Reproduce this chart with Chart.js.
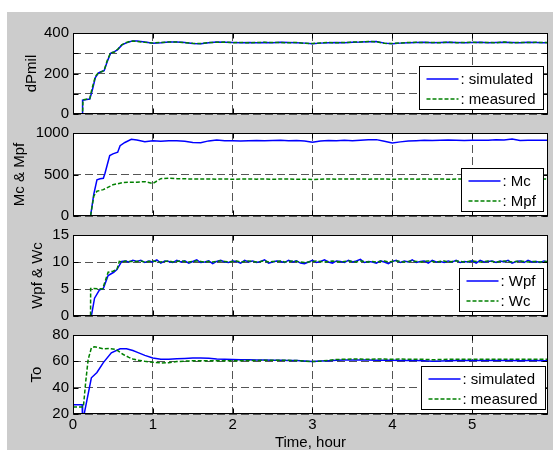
<!DOCTYPE html>
<html><head><meta charset="utf-8">
<script src="https://cdn.jsdelivr.net/npm/chart.js@4.4.0/dist/chart.umd.min.js"></script>
<style>
html,body{margin:0;padding:0;background:#fff;width:553px;height:450px;overflow:hidden}
#fig{position:absolute;left:7px;top:12px;width:546px;height:438px;background:#cccccc}
canvas{position:absolute;left:7px}
</style></head><body>
<div id="fig"></div>
<canvas id="c1" width="546" height="107" style="top:20px"></canvas>
<canvas id="c2" width="546" height="109" style="top:120px"></canvas>
<canvas id="c3" width="546" height="107" style="top:222px"></canvas>
<canvas id="c4" width="546" height="132" style="top:322px"></canvas>
<script>
// ---------- data ----------
const xTickVals = [0,1,2,3,4,5];
const xTickLabels = ['0','1','2','3','4','5'];

const tCoarse = [0.8,0.9,1.0,1.1,1.2,1.3,1.4,1.5,1.6,1.7,1.8,1.9,2.0,2.1,2.2,2.3,2.4,2.5,2.6,2.7,2.8,2.9,3.0,3.1,3.2,3.3,3.4,3.5,3.6,3.7,3.8,3.9,4.0,4.1,4.2,4.3,4.4,4.5,4.6,4.7,4.8,4.9,5.0,5.1,5.2,5.3,5.4,5.5,5.6,5.7,5.8,5.9,5.95];
const tFine = [0.8,0.85,0.9,0.95,1.0,1.05,1.1,1.15,1.2,1.25,1.3,1.35,1.4,1.45,1.5,1.55,1.6,1.65,1.7,1.75,1.8,1.85,1.9,1.95,2.0,2.05,2.1,2.15,2.2,2.25,2.3,2.35,2.4,2.45,2.5,2.55,2.6,2.65,2.7,2.75,2.8,2.85,2.9,2.95,3.0,3.05,3.1,3.15,3.2,3.25,3.3,3.35,3.4,3.45,3.5,3.55,3.6,3.65,3.7,3.75,3.8,3.85,3.9,3.95,4.0,4.05,4.1,4.15,4.2,4.25,4.3,4.35,4.4,4.45,4.5,4.55,4.6,4.65,4.7,4.75,4.8,4.85,4.9,4.95,5.0,5.05,5.1,5.15,5.2,5.25,5.3,5.35,5.4,5.45,5.5,5.55,5.6,5.65,5.7,5.75,5.8,5.85,5.9,5.95];

// Plot 1: dPmil
const dpSimT  = [0,0.115,0.12,0.17,0.21,0.24,0.28,0.32,0.36,0.39,0.43,0.47,0.52,0.56,0.61,0.66,0.71,0.75];
const dpSimVT = [0,0,68,72,74,115,180,203,210,214,260,300,308,318,340,350,357,361];
const dpMeasT  = [0,0.12,0.125,0.17,0.21,0.235,0.28,0.32,0.36,0.39,0.43,0.47,0.52,0.56,0.61,0.66,0.71,0.75];
const dpMeasVT = [0,0,70,73,76,120,185,205,209,216,265,302,306,320,342,352,358,360];
const dpSimS = [360,356,350,352,355,356,353,348,347,352,355,354,353,352,353,352,353,352,354,353,352,350,347,350,352,353,352,354,355,357,358,350,347,350,352,353,354,352,353,354,353,352,353,354,352,353,354,353,352,354,353,352,353];
const dpMeasS = [358,354,351,353,356,355,352,349,348,353,354,355,352,353,352,353,354,353,353,352,353,349,348,351,353,352,353,355,356,358,357,349,348,351,353,354,353,353,352,355,352,353,354,353,353,352,355,352,353,353,354,353,352];

// Plot 2: Mc & Mpf
const mcT  = [0,0.22,0.26,0.30,0.34,0.38,0.40,0.46,0.50,0.56,0.59,0.65,0.73];
const mcVT = [0,0,260,435,448,455,513,729,749,768,847,886,925];
const mcS = [915,895,908,900,906,908,900,885,882,905,915,908,906,903,906,910,908,910,914,908,910,905,890,903,910,907,912,906,913,918,920,900,880,893,905,908,912,909,913,915,912,910,914,912,913,918,915,928,910,912,913,913,913];
const mpfT  = [0,0.22,0.26,0.30,0.38,0.50,0.63,0.75];
const mpfVT = [0,0,239,298,318,376,404,407];
const mpfS = [408,414,392,450,455,450,448,446,445,447,444,446,443,445,447,444,446,443,445,447,442,444,440,443,446,444,447,445,446,444,447,445,443,445,447,444,446,444,446,443,445,447,444,446,445,443,446,444,446,445,444,446,445];

// Plot 3: Wpf & Wc
const wpfT  = [0,0.23,0.27,0.33,0.38,0.44,0.51,0.55,0.61,0.65,0.70,0.75];
const wpfVT = [0,0,3.3,4.8,5.1,7.5,8.1,8.6,10.1,10.2,10.0,10.3];
const wcT  = [0,0.22,0.221,0.37,0.44,0.50,0.55,0.58,0.62,0.66,0.70,0.75];
const wcVT = [0,0,5.1,5.0,8.1,8.3,8.6,10.1,10.0,10.2,10.1,10.1];
const wpfS = [10.1,10.3,9.9,10.2,10.0,10.4,9.8,10.2,10.1,9.9,10.3,10.0,10.2,9.8,10.1,10.4,9.9,10.0,10.2,9.7,10.1,10.3,10.0,9.9,10.2,10.1,9.8,10.3,10.0,10.2,9.9,10.1,10.4,9.8,10.0,10.2,10.1,9.9,10.3,10.0,10.2,9.8,9.7,10.0,10.3,9.9,10.1,10.4,10.0,9.8,10.2,10.1,9.9,10.3,10.0,10.2,10.5,9.9,10.1,10.0,9.8,10.2,10.0,9.7,10.1,10.3,9.9,10.2,10.0,10.4,9.9,10.1,10.2,9.8,10.3,10.0,10.1,9.9,10.2,10.0,10.3,9.9,10.1,10.0,10.2,9.8,10.3,10.0,10.1,10.2,9.9,10.2,10.0,10.3,9.8,10.1,10.2,9.9,10.3,10.0,10.1,9.9,10.2,10.0];
const wcS = [10.1,10.2,10.0,10.1,10.2,10.1,10.0,10.1,10.2,10.0,10.1,10.2,10.1,10.0,10.1,10.2,10.1,10.0,10.1,10.0,10.1,10.2,10.1,10.0,10.1,10.2,10.0,10.1,10.2,10.1,10.0,10.1,10.2,10.0,10.1,10.1,10.2,10.0,10.1,10.2,10.1,10.0,9.9,10.0,10.1,10.2,10.1,10.0,10.1,10.2,10.1,10.0,10.1,10.2,10.1,10.0,10.2,10.1,10.0,10.1,10.0,10.1,10.2,10.0,10.1,10.2,10.1,10.0,10.1,10.2,10.1,10.0,10.1,10.2,10.1,10.0,10.1,10.2,10.0,10.1,10.2,10.1,10.0,10.1,10.2,10.1,10.0,10.1,10.2,10.1,10.0,10.1,10.2,10.1,10.0,10.1,10.2,10.1,10.0,10.1,10.1,10.0,10.1,10.1];

// Plot 4: To
const toSimT  = [0,0.115,0.12,0.13,0.14,0.23,0.30,0.38,0.48,0.59,0.67,0.75];
const toSimVT = [27,27,14,14,20,47.5,51.5,59,66.5,69.5,69.5,68.2];
const toMeasT  = [0,0.13,0.16,0.19,0.23,0.27,0.30,0.38,0.46,0.54,0.63,0.70,0.75];
const toMeasVT = [25.3,25.3,45,61.5,70.2,71,70.7,69.5,69.7,69,65.2,63,61.8];
const toSimS = [67,64.5,62.5,61.5,61.5,62,62.2,62.5,62.5,62.3,61.8,61.5,61.3,61.2,61.2,61,61,60.8,60.8,60.7,60.6,60.2,59.9,60.2,60.5,60.8,61,61,61,61,60.9,60.8,60.8,60.7,60.7,60.6,60.4,60,60.3,60.5,60.6,60.6,60.6,60.6,60.7,60.6,60.6,60.6,60.5,60.6,60.6,60.5,60.5];
const toMeasS = [61,60,59.3,58.8,59,59.8,60.2,60.4,60.5,60.4,60.5,60.5,60.4,60.5,60.6,60.7,60.8,60.9,60.9,60.8,60.6,60.2,59.8,60.1,60.8,61.4,61.6,61.7,61.7,61.6,61.7,61.7,61.6,61.7,61.6,61.6,61.5,61.2,61.4,61.5,61.6,61.5,61.6,61.5,61.6,61.5,61.6,61.5,61.5,61.6,61.5,61.5,61.5];

const yTicks1 = [0,100,200,300,400],  yLabels1 = ['0','','200','','400'];
const yTicks2 = [0,500,1000],         yLabels2 = ['0','500','1000'];
const yTicks3 = [0,5,10,15],          yLabels3 = ['0','5','10','15'];
const yTicks4 = [20,40,60,80],        yLabels4 = ['20','40','60','80'];

// ---------- drawing ----------
const FONT = "'Liberation Sans', Arial, Helvetica, sans-serif";
Chart.defaults.font.family = FONT;
Chart.defaults.font.size = 15;
Chart.defaults.color = '#000';

function pts(tA, vA, tB, vB){
  const out = [];
  tA.forEach((t,i)=>out.push({x:t, y:vA[i]}));
  tB.forEach((t,i)=>out.push({x:t, y:vB[i]}));
  return out;
}

const frame = {
  id: 'frame',
  beforeDraw(chart){
    const {ctx, chartArea:a} = chart;
    ctx.save(); ctx.fillStyle = '#fff';
    ctx.fillRect(a.left, a.top, a.width, a.height); ctx.restore();
  },
  afterDatasetsDraw(chart, args, opts){
    const {ctx, chartArea:a, scales} = chart;
    ctx.save();
    ctx.strokeStyle = '#000'; ctx.lineWidth = 1; ctx.setLineDash([]);
    const L = Math.round(a.left)+0.5, R = Math.round(a.right)-0.5;
    const T = Math.round(a.top)+0.5, B = Math.round(a.bottom)-0.5;
    ctx.strokeRect(L, T, R-L, B-T);
    const tl = 5;
    ctx.beginPath();
    scales.x.ticks.forEach(t=>{
      const px = Math.round(scales.x.getPixelForValue(t.value))+0.5;
      ctx.moveTo(px,B); ctx.lineTo(px,B-tl);
      ctx.moveTo(px,T); ctx.lineTo(px,T+tl);
    });
    scales.y.ticks.forEach(t=>{
      const py = Math.round(scales.y.getPixelForValue(t.value))+0.5;
      ctx.moveTo(L,py); ctx.lineTo(L+tl,py);
      ctx.moveTo(R,py); ctx.lineTo(R-tl,py);
    });
    ctx.stroke();
    // legend
    const ds = chart.data.datasets;
    ctx.font = '15px ' + FONT;
    const texts = ds.map(d=>': ' + d.label);
    const tw = Math.max(...texts.map(s=>ctx.measureText(s).width));
    const padL = 7, sample = 32, gap = 2, padR = 8, rowH = 20, padT = 2;
    const w = Math.round(padL + sample + gap + tw + padR), h = padT + rowH*ds.length + 1;
    const x1 = Math.round(a.right - opts.offR - w) + 0.5, y1 = Math.round(a.bottom - opts.offB - h) + 0.5;
    ctx.fillStyle = '#fff';
    ctx.fillRect(x1, y1, w, h);
    ctx.strokeStyle = '#000'; ctx.lineWidth = 1;
    ctx.strokeRect(x1, y1, w, h);
    ds.forEach((d,i)=>{
      const cy = Math.round(y1 + padT + rowH*i + rowH/2);
      ctx.beginPath();
      ctx.strokeStyle = d.borderColor; ctx.lineWidth = 1.5;
      ctx.setLineDash(d.borderDash || []);
      ctx.moveTo(x1+padL, cy); ctx.lineTo(x1+padL+sample, cy); ctx.stroke();
      ctx.setLineDash([]);
      ctx.fillStyle = '#000'; ctx.textBaseline = 'middle'; ctx.textAlign = 'left';
      ctx.fillText(texts[i], x1+padL+sample+gap, cy+1);
    });
    ctx.restore();
  }
};

function makeChart(id, c){
  const isBottom = !!c.bottom;
  const datasets = c.sets.map(s=>({
    label: s.label,
    data: pts(s.tT, s.vT, s.tS, s.vS),
    borderColor: s.color,
    borderWidth: 1.5,
    borderDash: s.dash,
    pointRadius: 0,
    fill: false,
    tension: 0,
    order: s.order
  }));
  return new Chart(document.getElementById(id), {
    type: 'line',
    data: { datasets },
    plugins: [frame],
    options: {
      responsive: false, animation: false, devicePixelRatio: 1, events: [],
      layout: { padding: { left: 0, right: 5, top: 12, bottom: isBottom ? 0 : 12 } },
      plugins: { legend: {display:false}, tooltip: {enabled:false}, frame: {offR: c.legR, offB: 5} },
      scales: {
        x: {
          type: 'linear', min: 0, max: 5.95,
          afterBuildTicks: s => { s.ticks = xTickVals.map(v=>({value:v})); },
          afterFit: s => { s.height = isBottom ? 40 : 0; },
          grid: { color: '#555', lineWidth: 1, drawTicks: false },
          border: { display: false, dash: [8,4] },
          ticks: { display: isBottom, padding: 2, autoSkip: false, maxRotation: 0,
                   callback: (v,i) => xTickLabels[i] },
          title: { display: isBottom, text: 'Time, hour', padding: {top: 0, bottom: 2} }
        },
        y: {
          type: 'linear', min: c.yMin, max: c.yMax,
          afterBuildTicks: s => { s.ticks = c.yTicks.map(v=>({value:v})); },
          afterFit: s => { s.width = 66; },
          grid: { color: '#555', lineWidth: 1, drawTicks: false },
          border: { display: false, dash: [8,4] },
          ticks: { padding: 4, autoSkip: false, callback: (v,i) => c.yLabels[i] },
          title: { display: true, text: c.yTitle, padding: {top: c.titlePad, bottom: 0} }
        }
      }
    }
  });
}

const BLUE = '#0000ff', GREEN = '#008000', DASH = [4,2];

makeChart('c1', {
  yMin: 0, yMax: 400, yTicks: yTicks1, yLabels: yLabels1, yTitle: 'dPmil', titlePad: 16, legR: 5,
  sets: [
    {label:'simulated', tT:dpSimT, vT:dpSimVT, tS:tCoarse, vS:dpSimS, color:BLUE, dash:[], order:1},
    {label:'measured', tT:dpMeasT, vT:dpMeasVT, tS:tCoarse, vS:dpMeasS, color:GREEN, dash:DASH, order:0}
  ]
});
makeChart('c2', {
  yMin: 0, yMax: 1000, yTicks: yTicks2, yLabels: yLabels2, yTitle: 'Mc & Mpf', titlePad: 4, legR: 5,
  sets: [
    {label:'Mc', tT:mcT, vT:mcVT, tS:tCoarse, vS:mcS, color:BLUE, dash:[], order:1},
    {label:'Mpf', tT:mpfT, vT:mpfVT, tS:tCoarse, vS:mpfS, color:GREEN, dash:DASH, order:0}
  ]
});
makeChart('c3', {
  yMin: 0, yMax: 15, yTicks: yTicks3, yLabels: yLabels3, yTitle: 'Wpf & Wc', titlePad: 22, legR: 5,
  sets: [
    {label:'Wpf', tT:wpfT, vT:wpfVT, tS:tFine, vS:wpfS, color:BLUE, dash:[], order:1},
    {label:'Wc', tT:wcT, vT:wcVT, tS:tFine, vS:wcS, color:GREEN, dash:DASH, order:0}
  ]
});
makeChart('c4', {
  yMin: 20, yMax: 80, yTicks: yTicks4, yLabels: yLabels4, yTitle: 'To', titlePad: 21, legR: 3, bottom: true,
  sets: [
    {label:'simulated', tT:toSimT, vT:toSimVT, tS:tCoarse, vS:toSimS, color:BLUE, dash:[], order:1},
    {label:'measured', tT:toMeasT, vT:toMeasVT, tS:tCoarse, vS:toMeasS, color:GREEN, dash:DASH, order:0}
  ]
});
</script>
</body></html>
